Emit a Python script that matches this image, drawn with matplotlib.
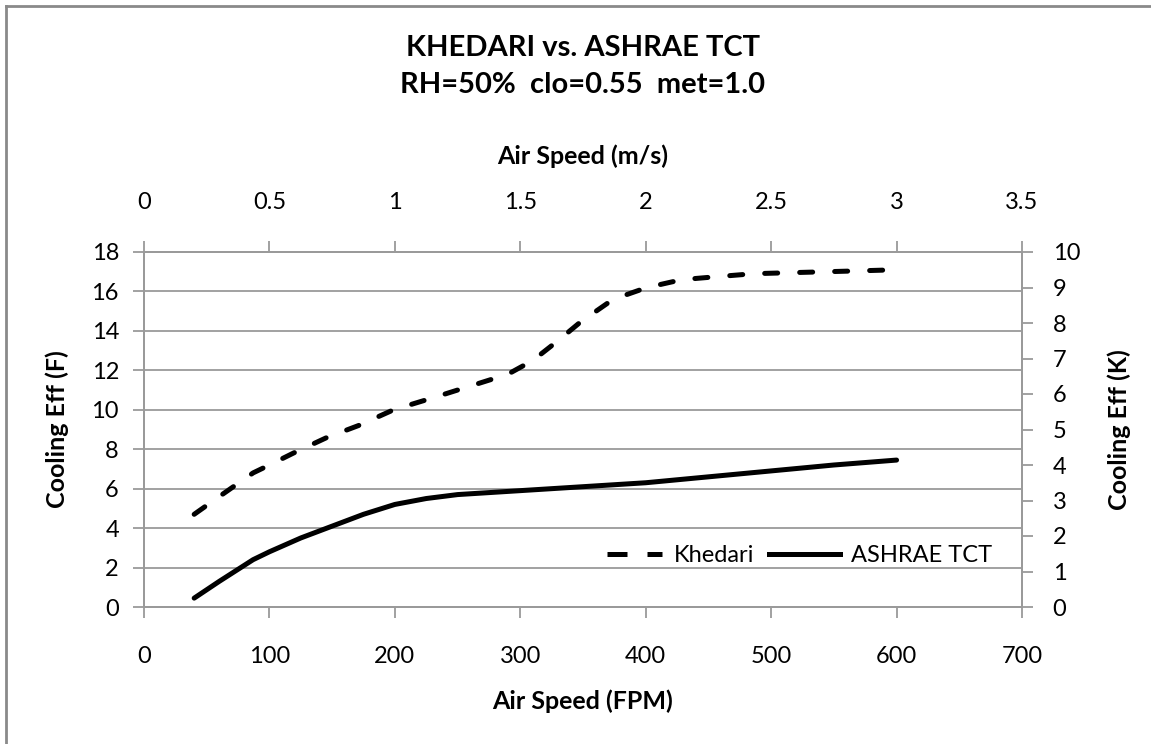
#Khedari vs. ASHRAE TCT cooling effect chart
import matplotlib
matplotlib.use('Agg')
import matplotlib.pyplot as plt
from matplotlib.lines import Line2D

plt.rcParams['font.family'] = ['Lato', 'DejaVu Sans']

#Khedari data (air speed FPM, cooling effect F)
khedari_fpm = [40, 60, 87, 100, 119, 146, 171, 199, 230, 260, 290, 310, 330, 348,
               374, 401, 429, 457, 486, 515, 544, 573, 600]
khedari_eff = [4.7, 5.6, 6.8, 7.2, 7.8, 8.6, 9.2, 10.0, 10.6, 11.2, 11.8, 12.5, 13.5, 14.45,
               15.6, 16.2, 16.6, 16.75, 16.9, 16.95, 17.0, 17.05, 17.1]

#ASHRAE TCT data
ashrae_fpm = [40, 60, 87, 100, 125, 150, 175, 200, 225, 250, 300, 350, 400, 450, 500, 550, 600]
ashrae_eff = [0.45, 1.3, 2.4, 2.8, 3.5, 4.1, 4.7, 5.2, 5.5, 5.7, 5.9, 6.1, 6.3, 6.6, 6.9, 7.2, 7.45]

W, H = 1151, 744
fig = plt.figure(figsize=(W / 100, H / 100), dpi=100)
ax = fig.add_axes([144 / W, 1 - 607 / H, (1022 - 144) / W, (607 - 252) / H])

grey = '#9a9a9a'
lw = 3.6
ax.plot(khedari_fpm, khedari_eff, color='black', linewidth=lw, dashes=(2.6, 4.4),
        dash_capstyle='round', solid_capstyle='round', label='Khedari', zorder=3)
ax.plot(ashrae_fpm, ashrae_eff, color='black', linewidth=lw, solid_capstyle='round',
        label='ASHRAE TCT', zorder=3)

ax.set_xlim(0, 700)
ax.set_ylim(0, 18)
ax.set_xticks(range(0, 701, 100))
ax.set_yticks(range(0, 19, 2))
ax.grid(axis='y', color=grey, linewidth=1.3)
ax.set_axisbelow(True)
for s in ax.spines.values():
    s.set_color(grey)
    s.set_linewidth(1.3)
ax.tick_params(colors=grey, labelcolor='black', labelsize=17, length=8, width=1.3)
ax.tick_params(axis='x', pad=20)
ax.tick_params(axis='y', pad=10)
ax.set_xlabel('Air Speed (FPM)', fontsize=18, fontweight='bold', labelpad=16)
ax.set_ylabel('Cooling Eff (F)', fontsize=18, fontweight='bold', labelpad=16)

#right axis (K)
ax_r = ax.twinx()
ax_r.set_ylim(0, 10)
ax_r.set_yticks(range(0, 11))
ax_r.tick_params(colors=grey, labelcolor='black', labelsize=17, length=8, width=1.3, pad=14)
ax_r.set_ylabel('Cooling Eff (K)', fontsize=18, fontweight='bold', labelpad=20)

#top axis (m/s)
ax_t = ax.twiny()
ax_t.set_xlim(0, 3.5)
ax_t.set_xticks([0, 0.5, 1, 1.5, 2, 2.5, 3, 3.5])
ax_t.set_xticklabels(['0', '0.5', '1', '1.5', '2', '2.5', '3', '3.5'])
ax_t.tick_params(colors=grey, labelcolor='black', labelsize=17, length=8, width=1.3, pad=20)
ax_t.set_xlabel('Air Speed (m/s)', fontsize=18, fontweight='bold', labelpad=20)
for a in (ax_r, ax_t):
    for s in a.spines.values():
        s.set_color(grey)
        s.set_linewidth(1.3)

#legend: two dashes for Khedari, a plain line for ASHRAE
handles = [Line2D([], [], color='black', linewidth=lw, linestyle=(5, (4, 4))),
           Line2D([], [], color='black', linewidth=lw)]
ax.legend(handles, ['Khedari', 'ASHRAE TCT'], loc='center', bbox_to_anchor=(792 / W, 1 - 556 / H),
          bbox_transform=fig.transFigure, ncol=2, frameon=False, fontsize=17,
          handlelength=3.0, handletextpad=0.5, columnspacing=0.6)

fig.text(0.5 * (144 + 1022) / W, 1 - 48 / H, 'KHEDARI vs. ASHRAE TCT', ha='center', va='center',
         fontsize=21, fontweight='bold')
fig.text(0.5 * (144 + 1022) / W, 1 - 85 / H, 'RH=50%  clo=0.55  met=1.0', ha='center', va='center',
         fontsize=21, fontweight='bold')

#outer chart frame
fig.add_artist(Line2D([6 / W, 6 / W], [0, 1 - 6 / H], color='#8a8a8a', linewidth=2))
fig.add_artist(Line2D([6 / W, 1], [1 - 6 / H, 1 - 6 / H], color='#8a8a8a', linewidth=2))

fig.savefig('out.png', dpi=100)
